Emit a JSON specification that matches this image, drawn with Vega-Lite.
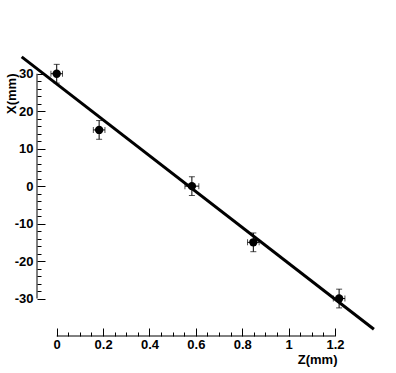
{
  "$schema": "https://vega.github.io/schema/vega-lite/v6.json",
  "width": 342,
  "height": 296,
  "autosize": "none",
  "padding": {"left": 37, "top": 40, "right": 17, "bottom": 37},
  "background": "white",
  "config": {"view": {"stroke": null}, "font": "Liberation Sans"},
  "datasets": {
    "points": [
      {"z": 0, "x": 30, "zlo": -0.025, "zhi": 0.025, "xlo": 27.5, "xhi": 32.5},
      {"z": 0.183, "x": 15, "zlo": 0.158, "zhi": 0.208, "xlo": 12.5, "xhi": 17.5},
      {"z": 0.583, "x": 0, "zlo": 0.553, "zhi": 0.613, "xlo": -2.5, "xhi": 2.5},
      {"z": 0.848, "x": -15, "zlo": 0.823, "zhi": 0.873, "xlo": -17.5, "xhi": -12.5},
      {"z": 1.218, "x": -30, "zlo": 1.193, "zhi": 1.243, "xlo": -32.5, "xhi": -27.5}
    ],
    "fit": [{"z": -0.151, "x": 34.5}, {"z": 1.368, "x": -38.2}],
    "xaxisline": [{"z": 0, "z2": 1.2, "x": -40}],
    "yaxisline": [{"z": -0.085, "x": -30, "x2": 30}]
  },
  "encoding": {
    "x": {"field": "z", "type": "quantitative", "scale": {"domain": [-0.085, 1.39], "nice": false, "zero": false},
      "axis": {
        "values": [0, 0.05, 0.1, 0.15, 0.2, 0.25, 0.3, 0.35, 0.4, 0.45, 0.5, 0.55, 0.6, 0.65, 0.7, 0.75, 0.8, 0.85, 0.9, 0.95, 1, 1.05, 1.1, 1.15, 1.2],
        "domain": false, "grid": false,
        "labelExpr": "round(datum.value*20) % 4 == 0 ? '' + datum.value : ''",
        "tickSize": {"condition": {"test": "round(datum.value*20) % 4 == 0", "value": -8}, "value": -4},
        "tickColor": "black", "tickWidth": 1,
        "labelColor": "black", "labelFont": "Liberation Sans", "labelFontWeight": "bold", "labelFontSize": 13, "labelPadding": 10,
        "labelFlush": false, "labelOverlap": false, "labelBound": false,
        "title": "Z(mm)", "titleX": 300, "titleY": 23, "titleAlign": "right", "titleBaseline": "middle",
        "titleFontSize": 13, "titleFontWeight": "bold", "titleColor": "black", "titleFont": "Liberation Sans"
      }
    },
    "y": {"field": "x", "type": "quantitative", "scale": {"domain": [-40, 39], "nice": false, "zero": false},
      "axis": {
        "values": [-30, -28, -26, -24, -22, -20, -18, -16, -14, -12, -10, -8, -6, -4, -2, 0, 2, 4, 6, 8, 10, 12, 14, 16, 18, 20, 22, 24, 26, 28, 30],
        "domain": false, "grid": false,
        "labelExpr": "datum.value % 10 == 0 ? '' + datum.value : ''",
        "tickSize": {"condition": {"test": "datum.value % 10 == 0", "value": -8}, "value": -4},
        "tickColor": "black", "tickWidth": 1,
        "labelColor": "black", "labelFont": "Liberation Sans", "labelFontWeight": "bold", "labelFontSize": 13, "labelPadding": 12,
        "labelFlush": false, "labelOverlap": false, "labelBound": false,
        "title": "X(mm)", "titleX": -26, "titleY": 33, "titleAngle": -90, "titleAlign": "right", "titleBaseline": "middle",
        "titleFontSize": 13, "titleFontWeight": "bold", "titleColor": "black", "titleFont": "Liberation Sans"
      }
    }
  },
  "layer": [
    {
      "data": {"name": "xaxisline"},
      "mark": {"type": "rule", "color": "black", "strokeWidth": 1},
      "encoding": {"x2": {"field": "z2"}}
    },
    {
      "data": {"name": "yaxisline"},
      "mark": {"type": "rule", "color": "black", "strokeWidth": 1},
      "encoding": {"y2": {"field": "x2"}}
    },
    {
      "data": {"name": "points"},
      "mark": {"type": "rule", "color": "black", "strokeWidth": 1},
      "encoding": {
        "y": {"field": "xlo", "type": "quantitative"},
        "y2": {"field": "xhi"}
      }
    },
    {
      "data": {"name": "points"},
      "mark": {"type": "rule", "color": "black", "strokeWidth": 1},
      "encoding": {
        "x": {"field": "zlo", "type": "quantitative"},
        "x2": {"field": "zhi"}
      }
    },
    {
      "data": {"name": "points"},
      "mark": {"type": "tick", "orient": "horizontal", "color": "black", "size": 6, "thickness": 1},
      "encoding": {"y": {"field": "xlo", "type": "quantitative"}}
    },
    {
      "data": {"name": "points"},
      "mark": {"type": "tick", "orient": "horizontal", "color": "black", "size": 6, "thickness": 1},
      "encoding": {"y": {"field": "xhi", "type": "quantitative"}}
    },
    {
      "data": {"name": "points"},
      "mark": {"type": "tick", "orient": "vertical", "color": "black", "size": 6, "thickness": 1},
      "encoding": {"x": {"field": "zlo", "type": "quantitative"}}
    },
    {
      "data": {"name": "points"},
      "mark": {"type": "tick", "orient": "vertical", "color": "black", "size": 6, "thickness": 1},
      "encoding": {"x": {"field": "zhi", "type": "quantitative"}}
    },
    {
      "data": {"name": "points"},
      "mark": {"type": "point", "filled": true, "shape": "circle", "size": 70, "color": "black", "opacity": 1}
    },
    {
      "data": {"name": "fit"},
      "mark": {"type": "line", "color": "black", "strokeWidth": 3}
    }
  ]
}
